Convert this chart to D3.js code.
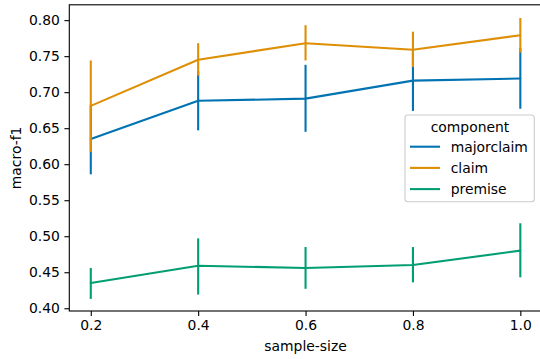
<!DOCTYPE html>
<html>
<head>
<meta charset="utf-8">
<script src="https://cdn.jsdelivr.net/npm/d3@7"></script>
<style>
  body { margin: 0; background: #fff; }
  svg { display: block; font-family: "DejaVu Sans", sans-serif; }
</style>
</head>
<body>
<div id="chart"></div>
<script>
// sample sizes on the x axis
const sampleSizes = [0.2, 0.4, 0.6, 0.8, 1.0];
const components = ["majorclaim", "claim", "premise"];

// mean macro-f1 and error bar bounds
const majorclaimMean = [0.635, 0.688, 0.691, 0.716, 0.719];
const majorclaimLow  = [0.586, 0.647, 0.645, 0.674, 0.677];
const majorclaimHigh = [0.682, 0.729, 0.738, 0.758, 0.761];

const claimMean = [0.681, 0.745, 0.768, 0.759, 0.779];
const claimLow  = [0.617, 0.723, 0.744, 0.735, 0.755];
const claimHigh = [0.744, 0.768, 0.793, 0.784, 0.803];

const premiseMean = [0.435, 0.459, 0.456, 0.460, 0.480];
const premiseLow  = [0.413, 0.419, 0.427, 0.436, 0.443];
const premiseHigh = [0.456, 0.497, 0.485, 0.485, 0.518];

const xTicks = [0.2, 0.4, 0.6, 0.8, 1.0];
const yTicks = [0.40, 0.45, 0.50, 0.55, 0.60, 0.65, 0.70, 0.75, 0.80];

const colors = { majorclaim: "#0173b2", claim: "#de8f05", premise: "#029e73" };

const series = [
  { key: "majorclaim", mean: majorclaimMean, low: majorclaimLow, high: majorclaimHigh },
  { key: "claim", mean: claimMean, low: claimLow, high: claimHigh },
  { key: "premise", mean: premiseMean, low: premiseLow, high: premiseHigh }
];

const W = 540, H = 359;
const m = { left: 69.3, top: 4.8, bottom: 311, right: 541.8 };

const svg = d3.select("#chart").append("svg")
  .attr("width", W).attr("height", H);

const x = d3.scaleLinear().domain([0.16, 1.04]).range([m.left, m.right]);
const y = d3.scaleLinear().domain([0.3962, 0.8213]).range([m.bottom, m.top]);

const fontSize = 13.9;

// x axis
const xAxis = svg.append("g")
  .attr("transform", `translate(0,${m.bottom})`)
  .call(d3.axisBottom(x).tickValues(xTicks).tickFormat(d3.format(".1f")).tickSize(4.9).tickPadding(4.5));
xAxis.select(".domain").remove();
xAxis.selectAll("line").attr("stroke", "#000").attr("stroke-width", 1.1);
xAxis.selectAll("text").attr("font-size", fontSize).attr("fill", "#000")
  .attr("font-family", "DejaVu Sans");

// y axis
const yAxis = svg.append("g")
  .attr("transform", `translate(${m.left},0)`)
  .call(d3.axisLeft(y).tickValues(yTicks).tickFormat(d3.format(".2f")).tickSize(4.9).tickPadding(4.5));
yAxis.select(".domain").remove();
yAxis.selectAll("line").attr("stroke", "#000").attr("stroke-width", 1.1);
yAxis.selectAll("text").attr("font-size", fontSize).attr("fill", "#000")
  .attr("font-family", "DejaVu Sans");

// lines + error bars
const line = d3.line().x(d => x(d[0])).y(d => y(d[1]));
series.forEach(s => {
  const pts = sampleSizes.map((v, i) => [v, s.mean[i]]);
  svg.append("path")
    .datum(pts)
    .attr("d", line)
    .attr("fill", "none")
    .attr("stroke", colors[s.key])
    .attr("stroke-width", 2.1)
    .attr("stroke-linecap", "round")
    .attr("stroke-linejoin", "round");
  svg.append("g").selectAll("line")
    .data(sampleSizes.map((v, i) => ({ v, lo: s.low[i], hi: s.high[i] })))
    .enter().append("line")
    .attr("x1", d => x(d.v)).attr("x2", d => x(d.v))
    .attr("y1", d => y(d.lo)).attr("y2", d => y(d.hi))
    .attr("stroke", colors[s.key])
    .attr("stroke-width", 2.1);
});

// frame
svg.append("rect")
  .attr("x", m.left).attr("y", m.top)
  .attr("width", m.right - m.left).attr("height", m.bottom - m.top)
  .attr("fill", "none").attr("stroke", "#000").attr("stroke-width", 1.1);

// axis labels
svg.append("text")
  .attr("x", x(0.6)).attr("y", 350.5)
  .attr("text-anchor", "middle").attr("font-size", fontSize)
  .text("sample-size");
svg.append("text")
  .attr("transform", `translate(20.5,${(m.top + m.bottom) / 2}) rotate(-90)`)
  .attr("text-anchor", "middle").attr("font-size", fontSize)
  .text("macro-f1");

// legend
const lg = svg.append("g");
lg.append("rect")
  .attr("x", 405).attr("y", 115).attr("width", 129.3).attr("height", 86.7)
  .attr("rx", 3).attr("fill", "#fff").attr("fill-opacity", 0.8)
  .attr("stroke", "#cccccc").attr("stroke-width", 1.1);
lg.append("text")
  .attr("x", 470).attr("y", 131.5)
  .attr("text-anchor", "middle").attr("font-size", fontSize)
  .text("component");
components.forEach((c, i) => {
  const yy = 146.7 + i * 21.2;
  lg.append("line")
    .attr("x1", 410).attr("x2", 440).attr("y1", yy).attr("y2", yy)
    .attr("stroke", colors[c]).attr("stroke-width", 2.1);
  lg.append("text")
    .attr("x", 450.7).attr("y", yy + 5)
    .attr("font-size", fontSize)
    .text(c);
});
</script>
</body>
</html>
